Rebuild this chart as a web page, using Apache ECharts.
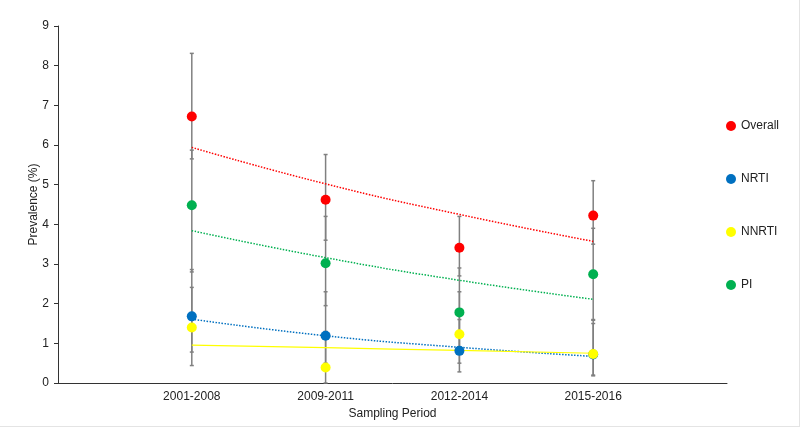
<!DOCTYPE html>
<html><head><meta charset="utf-8">
<script src="https://cdn.jsdelivr.net/npm/echarts@6/dist/echarts.min.js"></script>
<style>html,body{margin:0;padding:0;background:#fff}#c{width:800px;height:427px;box-sizing:border-box;border-right:1px solid #e4e4e4;border-bottom:1px solid #e4e4e4}</style>
</head><body><div id="c"></div>
<script>
const categories = ['2001-2008', '2009-2011', '2012-2014', '2015-2016'];
const yTicks = [0,1,2,3,4,5,6,7,8,9];
const overall = [6.72, 4.62, 3.41, 4.22];
const nrti = [1.68, 1.19, 0.81, 0.72];
const nnrti = [1.40, 0.39, 1.23, 0.73];
const pi = [4.48, 3.02, 1.78, 2.74];
const overallLow = [5.65, 3.60, 2.70, 3.50];
const overallHigh = [8.31, 5.76, 4.20, 5.10];
const nrtiLow = [0.78, 0.50, 0.28, 0.20];
const nrtiHigh = [2.86, 2.30, 1.60, 1.60];
const nnrtiLow = [0.44, 0.00, 0.50, 0.18];
const nnrtiHigh = [2.41, 1.30, 2.30, 1.50];
const piLow = [2.80, 1.95, 0.90, 1.58];
const piHigh = [5.87, 4.20, 2.90, 3.90];
const overallTrend = [5.94, 5.02, 4.25, 3.57];
const nrtiTrend = [1.61, 1.19, 0.90, 0.67];
const nnrtiTrend = [0.955, 0.89, 0.82, 0.75];
const piTrend = [3.84, 3.16, 2.59, 2.11];

const colors = {Overall:'#ff0000', NRTI:'#0070c0', NNRTI:'#ffff00', PI:'#00b050'};
const pos = categories.map((c,i)=>i+1);
const pts = arr => arr.map((v,i)=>[pos[i], v]);

function errSeries(low, high) {
  return {
    type:'custom', silent:true, z:1,
    data: low.map((l,i)=>[pos[i], l, high[i]]),
    renderItem: function(params, api){
      const x = api.value(0);
      const p1 = api.coord([x, api.value(1)]);
      const p2 = api.coord([x, api.value(2)]);
      const w = 2;
      const st = {stroke:'#808080', lineWidth:1.5};
      return {type:'group', children:[
        {type:'line', shape:{x1:p1[0],y1:p1[1],x2:p2[0],y2:p2[1]}, style:st},
        {type:'line', shape:{x1:p1[0]-w,y1:p1[1],x2:p1[0]+w,y2:p1[1]}, style:st},
        {type:'line', shape:{x1:p2[0]-w,y1:p2[1],x2:p2[0]+w,y2:p2[1]}, style:st}
      ]};
    }
  };
}
function trend(arr, color, type, w){
  return {type:'line', data:pts(arr), smooth:true, symbol:'none', silent:true, z:2,
    lineStyle:{color:color, type:type, width:w}};
}
function scat(name, arr){
  return {name:name, type:'scatter', data:pts(arr), symbolSize:10, z:5,
    itemStyle:{color:colors[name], opacity:1}};
}

const chart = echarts.init(document.getElementById('c'), null, {renderer:'canvas'});
chart.setOption({
  animation:false,
  textStyle:{fontFamily:'Liberation Sans, Arial, sans-serif'},
  grid:{left:58, right:72, top:26, bottom:43},
  legend:{
    orient:'vertical', left:721, top:115, itemGap:41, itemWidth:10, itemHeight:10,
    icon:'circle', textStyle:{fontSize:12, color:'#222', fontFamily:'Liberation Sans, Arial, sans-serif'},
    data:['Overall','NRTI','NNRTI','PI']
  },
  xAxis:{
    type:'value', min:0, max:categories.length+1, interval:1,
    name:'Sampling Period', nameLocation:'middle', nameGap:20,
    nameTextStyle:{fontSize:12, color:'#222'},
    axisLine:{lineStyle:{color:'#333', width:1}},
    axisTick:{show:false}, splitLine:{show:false},
    axisLabel:{fontSize:12, color:'#222', margin:8,
      formatter: v => (v>=1 && v<=categories.length) ? categories[v-1] : ''}
  },
  yAxis:{
    type:'value', min:yTicks[0], max:yTicks[yTicks.length-1], interval:1,
    name:'Prevalence (%)', nameLocation:'middle', nameGap:18, nameMoveOverlap:false,
    nameTextStyle:{fontSize:12, color:'#222'},
    axisLine:{show:true, lineStyle:{color:'#333', width:1}},
    axisTick:{show:true, length:4, lineStyle:{color:'#333'}},
    splitLine:{show:false},
    axisLabel:{fontSize:12, color:'#222', margin:9}
  },
  series:[
    errSeries(overallLow, overallHigh),
    errSeries(piLow, piHigh),
    errSeries(nrtiLow, nrtiHigh),
    errSeries(nnrtiLow, nnrtiHigh),
    trend(overallTrend, '#ff0000', 'dotted', 1.5),
    trend(piTrend, '#00b050', 'dotted', 1.5),
    trend(nrtiTrend, '#0070c0', 'dotted', 1.5),
    trend(nnrtiTrend, '#ffff00', 'solid', 1.2),
    scat('Overall', overall),
    scat('NRTI', nrti),
    scat('NNRTI', nnrti),
    scat('PI', pi)
  ]
});
</script></body></html>
